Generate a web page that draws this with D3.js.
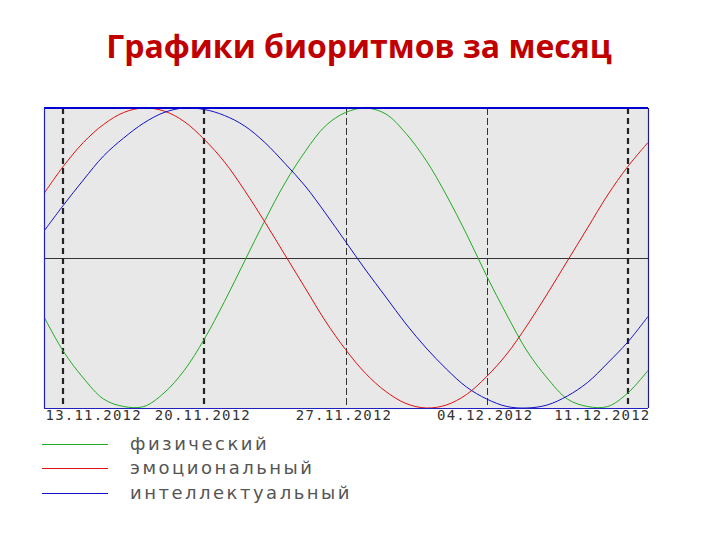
<!DOCTYPE html>
<html>
<head>
<meta charset="utf-8">
<script src="https://cdn.jsdelivr.net/npm/d3@7"></script>
<style>
	body { margin: 0; background: #fff; }
	svg { display: block; }
</style>
</head>
<body>
<svg id="chart" width="720" height="540"></svg>
<script>
// values, one per day from 12.11.2012 to 12.12.2012
var physical = [-0.38, -0.62, -0.80, -0.94, -0.99, -0.99, -0.90, -0.75, -0.54, -0.29, -0.02,
	0.25, 0.50, 0.71, 0.88, 0.97, 1.00, 0.96, 0.83, 0.65, 0.42, 0.16, -0.12,
	-0.38, -0.62, -0.80, -0.94, -0.99, -0.99, -0.90, -0.75];
var emotional = [0.42, 0.61, 0.77, 0.89, 0.97, 1.00, 0.98, 0.91, 0.79, 0.64, 0.45,
	0.24, 0.02, -0.20, -0.42, -0.61, -0.77, -0.89, -0.97, -1.00, -0.98, -0.91, -0.79,
	-0.64, -0.45, -0.24, -0.02, 0.20, 0.42, 0.61, 0.77];
var intellectual = [0.17, 0.35, 0.52, 0.68, 0.80, 0.90, 0.97, 1.00, 0.99, 0.95, 0.88,
	0.77, 0.63, 0.48, 0.30, 0.11, -0.08, -0.26, -0.44, -0.60, -0.74, -0.86, -0.94,
	-0.99, -1.00, -0.98, -0.92, -0.83, -0.70, -0.56, -0.39];

var startDate = new Date(2012, 10, 12),
	endDate = new Date(2012, 11, 12);
var days = d3.timeDay.range(startDate, d3.timeDay.offset(endDate, 1));

var tickDates = [new Date(2012, 10, 13), new Date(2012, 10, 20), new Date(2012, 10, 27),
	new Date(2012, 11, 4), new Date(2012, 11, 11)];
var boldDates = [new Date(2012, 10, 13), new Date(2012, 10, 20), new Date(2012, 11, 11)];
var thinDates = [new Date(2012, 10, 27), new Date(2012, 11, 4)];

var seriesNames = ['физический', 'эмоциональный', 'интеллектуальный'];
var seriesColors = ['#22aa22', '#e01010', '#1010c8'];
var seriesValues = [physical, emotional, intellectual];

var titleText = 'Графики биоритмов за месяц';

var plot = { left: 44, right: 648, top: 108, bottom: 408 };

var svg = d3.select('#chart');

svg.append('text')
	.attr('x', 359)
	.attr('y', 58)
	.attr('text-anchor', 'middle')
	.attr('font-family', 'Open Sans, sans-serif')
	.attr('font-weight', 'bold')
	.attr('font-size', 32)
	.attr('fill', '#c00000')
	.text(titleText);

var x = d3.scaleTime()
	.domain([startDate, endDate])
	.range([plot.left - 1, plot.right]);

var y = d3.scaleLinear()
	.domain([-1, 1])
	.range([plot.bottom, plot.top]);

var defs = svg.append('defs');
defs.append('clipPath').attr('id', 'plotClip')
	.append('rect')
		.attr('x', plot.left)
		.attr('y', plot.top)
		.attr('width', plot.right - plot.left)
		.attr('height', plot.bottom - plot.top);

svg.append('rect')
	.attr('x', plot.left)
	.attr('y', plot.top)
	.attr('width', plot.right - plot.left)
	.attr('height', plot.bottom - plot.top)
	.attr('fill', '#e8e8e8');

var plotG = svg.append('g').attr('clip-path', 'url(#plotClip)');

// zero line
plotG.append('line')
	.attr('x1', plot.left).attr('x2', plot.right)
	.attr('y1', y(0) + 0.5).attr('y2', y(0) + 0.5)
	.attr('stroke', '#333').attr('stroke-width', 1);

// weekly dashed lines
plotG.selectAll('line.bold').data(boldDates).enter().append('line')
	.attr('class', 'bold')
	.attr('x1', function(d) { return Math.round(x(d)); })
	.attr('x2', function(d) { return Math.round(x(d)); })
	.attr('y1', plot.top).attr('y2', plot.bottom)
	.attr('stroke', '#222').attr('stroke-width', 2.2)
	.attr('stroke-dasharray', '6,4');

plotG.selectAll('line.thin').data(thinDates).enter().append('line')
	.attr('class', 'thin')
	.attr('x1', function(d) { return Math.round(x(d)) + 0.5; })
	.attr('x2', function(d) { return Math.round(x(d)) + 0.5; })
	.attr('y1', plot.top).attr('y2', plot.bottom)
	.attr('stroke', '#333').attr('stroke-width', 1)
	.attr('stroke-dasharray', '7,3');

var line = d3.line()
	.x(function(d, i) { return x(days[i]); })
	.y(function(d) { return y(d); })
	.curve(d3.curveCatmullRom);

plotG.selectAll('path.series').data(seriesValues).enter().append('path')
	.attr('class', 'series')
	.attr('d', line)
	.attr('fill', 'none')
	.attr('stroke', function(d, i) { return seriesColors[i]; })
	.attr('stroke-width', 1);

// frame
svg.append('line')
	.attr('x1', plot.left).attr('x2', plot.right)
	.attr('y1', plot.top).attr('y2', plot.top)
	.attr('stroke', '#0000d0').attr('stroke-width', 2);
svg.append('line')
	.attr('x1', plot.left + 0.5).attr('x2', plot.left + 0.5)
	.attr('y1', plot.top).attr('y2', plot.bottom)
	.attr('stroke', '#2020c0').attr('stroke-width', 1.2);
svg.append('line')
	.attr('x1', plot.right + 0.5).attr('x2', plot.right + 0.5)
	.attr('y1', plot.top).attr('y2', plot.bottom)
	.attr('stroke', '#202080').attr('stroke-width', 1.2);
svg.append('line')
	.attr('x1', plot.left).attr('x2', plot.right)
	.attr('y1', plot.bottom + 0.5).attr('y2', plot.bottom + 0.5)
	.attr('stroke', '#2020c0').attr('stroke-width', 1.2);

// date axis, outer labels kept inside the plot
var xAxis = d3.axisBottom(x)
	.tickValues(tickDates)
	.tickSize(0)
	.tickPadding(0)
	.tickFormat(d3.timeFormat('%d.%m.%Y'));

var axisG = svg.append('g')
	.attr('transform', 'translate(0,' + (plot.bottom + 1) + ')')
	.call(xAxis);
axisG.select('.domain').remove();
axisG.selectAll('text')
	.attr('dy', 0)
	.attr('y', 11)
	.attr('font-family', 'DejaVu Sans Mono, monospace')
	.attr('font-size', 14)
	.attr('letter-spacing', 1.2)
	.attr('fill', '#333');
axisG.selectAll('.tick').each(function(d) {
	var g = d3.select(this);
	var t = g.select('text');
	var w = t.node().getComputedTextLength();
	var cx = x(d) - 2;
	var left = Math.max(plot.left + 1, Math.min(cx - w / 2, plot.right + 2 - w));
	t.attr('text-anchor', 'start').attr('x', left - x(d));
});

// legend
var legendG = svg.append('g');
var legendRows = [444, 468, 493];
seriesNames.forEach(function(name, i) {
	legendG.append('line')
		.attr('x1', 42).attr('x2', 108)
		.attr('y1', legendRows[i] + 0.5).attr('y2', legendRows[i] + 0.5)
		.attr('stroke', seriesColors[i]).attr('stroke-width', 1);
	legendG.append('text')
		.attr('x', 130)
		.attr('y', legendRows[i] + 6)
		.attr('font-family', 'DejaVu Sans, sans-serif')
		.attr('font-size', 18)
		.attr('letter-spacing', 2.5)
		.attr('fill', '#555')
		.text(name);
});
</script>
</body>
</html>
